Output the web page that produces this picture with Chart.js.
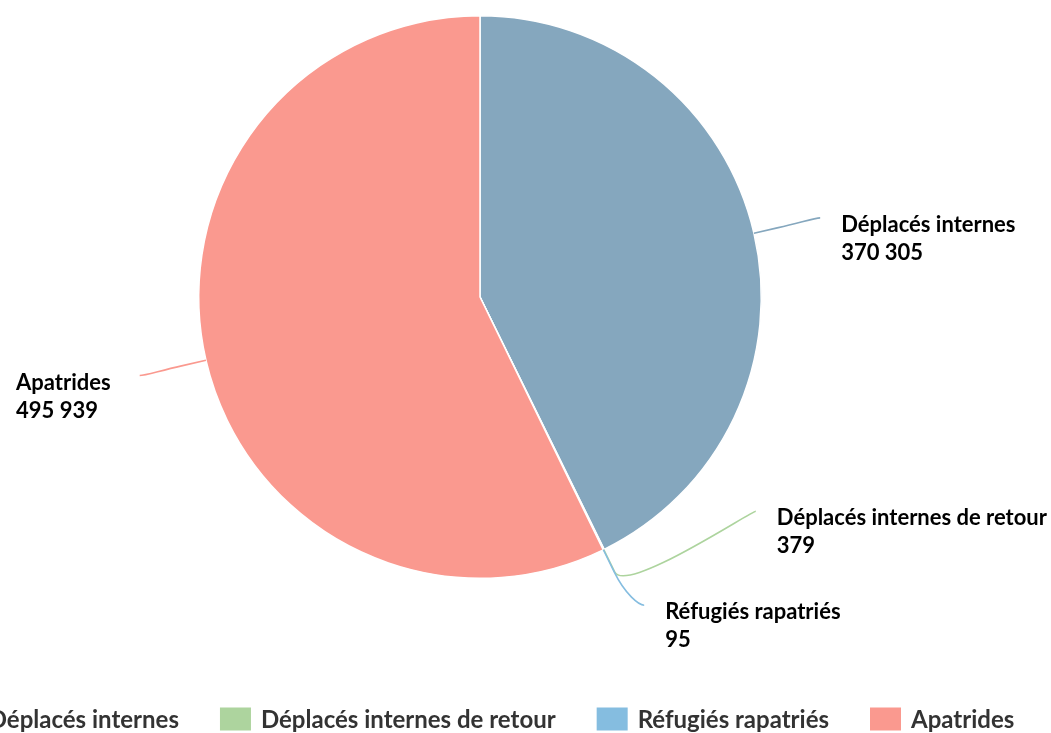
<!DOCTYPE html>
<html>
<head>
<meta charset="utf-8">
<script src="https://cdn.jsdelivr.net/npm/chart.js@4"></script>
<style>
  html, body { margin: 0; padding: 0; background: #fff; overflow: hidden; }
  #wrap { width: 1051px; height: 733px; }
</style>
</head>
<body>
<div id="wrap"><canvas id="myChart" width="1051" height="733"></canvas></div>
<script>
const categories = ['Déplacés internes', 'Déplacés internes de retour', 'Réfugiés rapatriés', 'Apatrides']
const values = [370305, 379, 95, 495939]
const colors = ['#85a7be', '#add49e', '#85bde0', '#fa998f']

// 370305 -> "370 305"
function fmt(v) {
  return String(v).replace(/\B(?=(\d{3})+(?!\d))/g, ' ')
}

// labels with leader lines, pushed apart on each side when they overlap
const pieLabels = {
  id: 'pieLabels',
  afterDatasetsDraw(chart) {
    const ctx = chart.ctx
    const arcs = chart.getDatasetMeta(0).data
    const dist = 68
    const minGap = 94
    let items = arcs.map((arc, i) => {
      const mid = (arc.startAngle + arc.endAngle) / 2
      const r = arc.outerRadius
      return {
        i, arc, r,
        cos: Math.cos(mid), sin: Math.sin(mid),
        right: Math.cos(mid) >= 0,
        // keep the label inside the lower edge
        ay: Math.min(arc.y + (r + dist) * Math.sin(mid), arc.y + r + dist - 41)
      }
    })
    ;[true, false].forEach(side => {
      const list = items.filter(it => it.right === side).sort((a, b) => a.ay - b.ay)
      for (let j = list.length - 2; j >= 0; j--) {
        if (list[j + 1].ay - list[j].ay < minGap) list[j].ay = list[j + 1].ay - minGap
      }
    })

    ctx.save()
    ctx.font = 'bold 22px Lato'
    ctx.textBaseline = 'middle'
    items.forEach(it => {
      const { arc, r } = it
      const R = r + dist
      const dy = it.ay - arc.y
      const dx = Math.sqrt(Math.max(R * R - dy * dy, 0))
      const ax = it.right ? arc.x + dx : arc.x - dx
      const tx = arc.x + r * it.cos, ty = arc.y + r * it.sin
      const bx = arc.x + (r + 25) * it.cos, by = arc.y + (r + 25) * it.sin

      ctx.strokeStyle = colors[it.i]
      ctx.lineWidth = 1.6
      ctx.beginPath()
      ctx.moveTo(ax, it.ay)
      ctx.bezierCurveTo(ax + (it.right ? -5 : 5), it.ay, 2 * bx - tx, 2 * by - ty, bx, by)
      ctx.lineTo(tx, ty)
      ctx.stroke()

      const lines = [categories[it.i], fmt(values[it.i])]
      const w = Math.max(...lines.map(l => ctx.measureText(l).width))
      const x0 = it.right ? ax + 21 : ax - 29 - w
      ctx.fillStyle = '#000'
      ctx.textAlign = 'left'
      lines.forEach((l, k) => ctx.fillText(l, x0, it.ay + 7 + k * 28))
    })
    ctx.restore()
  }
}

// bottom legend, one row, centred (wider than the canvas, so it is cut at the left)
const bottomLegend = {
  id: 'bottomLegend',
  afterDraw(chart) {
    const ctx = chart.ctx
    const boxW = 31, boxH = 23, textOff = 41, gap = 41
    const y = 719
    ctx.save()
    ctx.font = 'bold 24px Lato'
    ctx.textBaseline = 'middle'
    const widths = categories.map(c => ctx.measureText(c).width)
    const total = widths.reduce((s, w) => s + textOff + w, 0) + gap * (categories.length - 1)
    let x = 481 - total / 2
    categories.forEach((c, i) => {
      ctx.fillStyle = colors[i]
      ctx.fillRect(x, y - boxH / 2, boxW, boxH)
      ctx.fillStyle = '#333'
      ctx.fillText(c, x + textOff, y + 1)
      x += textOff + widths[i] + gap
    })
    ctx.restore()
  }
}

const myChart = new Chart(document.querySelector('#myChart'), {
  type: 'pie',
  data: {
    labels: categories,
    datasets: [{
      data: values,
      backgroundColor: colors,
      borderColor: '#fff',
      borderWidth: 1.5
    }]
  },
  options: {
    responsive: false,
    animation: false,
    layout: { padding: { left: 198, right: 289, top: 15, bottom: 154 } },
    plugins: {
      legend: { display: false },
      tooltip: { enabled: false }
    }
  },
  plugins: [pieLabels, bottomLegend]
})
</script>
</body>
</html>
